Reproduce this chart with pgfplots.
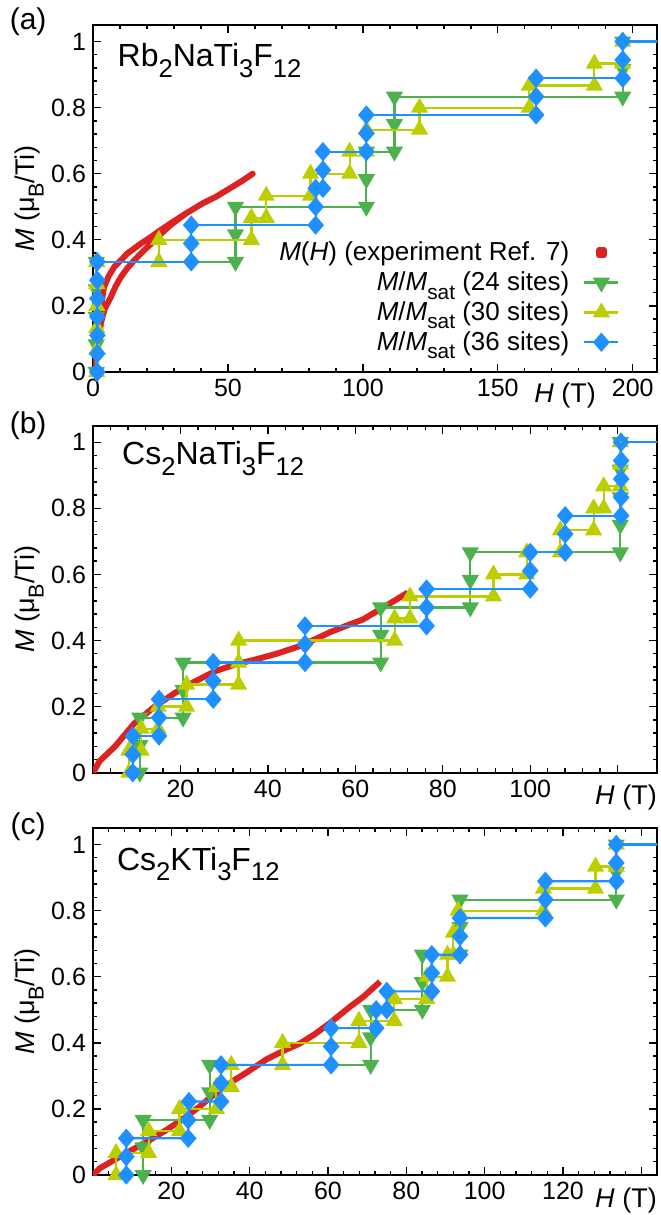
\documentclass[border=0pt]{standalone}
\usepackage{pgfplots}
\pgfplotsset{compat=1.18}
\usepackage{graphicx}
\usepackage{fontspec}
\setmainfont{Liberation Sans}
\definecolor{cred}{RGB}{221,34,34}
\definecolor{cgreen}{RGB}{77,178,77}
\definecolor{cyel}{RGB}{188,206,0}
\definecolor{cblue}{RGB}{30,144,255}
\newcommand{\sub}[1]{\raisebox{-0.33em}{\scalebox{0.8}{#1}}}
\tikzset{
  plab/.style={font=\fontsize{15}{15}\selectfont},
  comp/.style={anchor=base west, font=\fontsize{16}{16}\selectfont, inner sep=0pt},
}
\pgfplotsset{
  mystyle/.style={
    scale only axis, width=282pt, height=173.5pt,
    ymin=0, ymax=1.05,
    ytick={0,0.2,0.4,0.6,0.8,1},
    yticklabels={0,0.2,0.4,0.6,0.8,1},
    minor y tick num=4, minor x tick num=4,
    tick align=inside,
    major tick length=4pt, minor tick length=2.2pt,
    every tick/.style={black, line width=0.7pt},
    axis line style={line width=1pt},
    tick label style={font=\fontsize{12.5}{13}\selectfont},
    ylabel={\textit{M} (μ\sub{B}/Ti)},
    ylabel style={font=\fontsize{13.5}{14}\selectfont, at={(rel axis cs:-0.113,0.5)}, anchor=center},
    xlabel={\textit{H} (T)},
    xlabel style={font=\fontsize{13.5}{14}\selectfont, anchor=north},
    clip mode=individual,
  },
  sg/.style={cgreen, line width=1.1pt, mark=triangle*, mark size=3.9pt, mark options={solid, rotate=180, fill=cgreen}},
  sy/.style={cyel, line width=1.1pt, mark=triangle*, mark size=3.9pt, mark options={solid, fill=cyel}},
  sb/.style={cblue, line width=1.1pt, mark=diamond*, mark size=4pt, mark options={solid, fill=cblue, xscale=1.15}},
  sr/.style={cred, line width=3pt, line join=round, no markers},
}
\begin{document}
\begin{tikzpicture}
\useasboundingbox (0,0) rectangle (330pt,607.5pt);
% ---------------- (a)
\begin{axis}[mystyle, at={(46.5pt,421.5pt)},
  xmin=0, xmax=209, xtick={0,50,100,150,200}, xticklabels={0,50,100,150,200},
  xlabel style={at={(rel axis cs:0.837,0)}, yshift=-2pt},
  legend style={draw=none, fill=none, font=\fontsize{13}{15}\selectfont,
    at={(rel axis cs:0.945,0.03)}, anchor=south east, row sep=0pt, column sep=5pt},
  legend cell align=right, legend plot pos=right]
\addplot[sr, legend image code/.code={\fill[cred] (0.3cm-1.2pt,-1.2pt) rectangle (0.3cm+1.2pt,1.2pt);}] coordinates {
(0.3,0) (1.7,0.066) (2.3,0.096) (2.9,0.147) (4.3,0.19) (6.6,0.227) (8.3,0.258) (10.4,0.288) (12.8,0.315) (15.3,0.338) (19,0.369) (21.8,0.39) (24.8,0.415) (28.8,0.445) (34.5,0.48) (40.6,0.51) (45.5,0.53) (51.6,0.56) (55.6,0.58) (59.2,0.6)
(55.6,0.58) (51.6,0.56) (45.5,0.53) (40.6,0.51) (34.5,0.48) (28.8,0.45) (24.8,0.428) (20.8,0.405) (17.8,0.389) (12.8,0.359) (7.9,0.318) (5.8,0.29) (4.1,0.258) (2.9,0.197) (1.8,0.12) (1.2,0.06) (0.3,0)};
\addlegendentry{\textit{M}(\textit{H}) (experiment Ref. 7)}
\addplot[sg] coordinates {
(1.2,0) (1.2,0.0833) (1.2,0.1667) (1.2,0.25) (1.2,0.3333)
(52.8,0.3333) (52.8,0.4167) (52.8,0.5)
(101.3,0.5) (101.3,0.5833) (101.3,0.6667)
(111.7,0.6667) (111.7,0.75) (111.7,0.8333)
(196.3,0.8333) (196.3,0.9167) (196.3,1)};
\addlegendentry{\textit{M}/\textit{M}\sub{sat} (24 sites)}
\addplot[sy] coordinates {
(1.4,0) (1.4,0.0667) (1.4,0.1333) (1.4,0.2) (1.4,0.2667) (1.4,0.3333)
(24.4,0.3333) (24.4,0.4) (58.7,0.4) (58.7,0.4667) (64.2,0.4667) (64.2,0.5333)
(80.6,0.5333) (80.6,0.6) (95.1,0.6) (95.1,0.6667) (101.3,0.6667) (101.3,0.7333)
(121,0.7333) (121,0.8) (161.7,0.8) (161.7,0.8667) (185.8,0.8667) (185.8,0.9333)
(196.3,0.9333) (196.3,1)};
\addlegendentry{\textit{M}/\textit{M}\sub{sat} (30 sites)}
\addplot[sb] coordinates {
(1.6,0) (1.6,0.0556) (1.6,0.1111) (1.6,0.1667) (1.6,0.2222) (1.6,0.2778) (1.6,0.3333)
(36.4,0.3333) (36.4,0.3889) (36.4,0.4444)
(82.5,0.4444) (82.5,0.5) (82.5,0.5556)
(85.2,0.5556) (85.2,0.6111) (85.2,0.6667)
(101.3,0.6667) (101.3,0.7222) (101.3,0.7778)
(164.2,0.7778) (164.2,0.8333) (164.2,0.8889)
(196.3,0.8889) (196.3,0.9444) (196.3,1)};
\addlegendentry{\textit{M}/\textit{M}\sub{sat} (36 sites)}
\addplot[cgreen, line width=1.1pt, forget plot] coordinates {(196.3,1) (215,1)};
\addplot[cyel, line width=1.1pt, forget plot] coordinates {(196.3,1) (215,1)};
\addplot[cblue, line width=1.1pt, forget plot] coordinates {(196.3,1) (215,1)};
\node[plab] at (rel axis cs:-0.115,1.01) {(a)};
\node[comp] at (rel axis cs:0.043,0.879) {Rb\sub{2}NaTi\sub{3}F\sub{12}};
\end{axis}
% ---------------- (b)
\begin{axis}[mystyle, at={(46.5pt,221.15pt)},
  xmin=0, xmax=129, xtick={0,20,...,120}, xticklabels={,20,40,60,80,100,},
  xlabel style={at={(rel axis cs:0.945,0)}, yshift=-2.7pt}]
\addplot[sr] coordinates {
(0,0) (1.5,0.035) (5,0.079) (9.5,0.15) (14.1,0.2) (18.7,0.241) (23.3,0.276) (27.9,0.307) (32.4,0.327) (37,0.342) (42,0.36) (47.3,0.383) (51,0.405) (54.2,0.425) (58,0.445) (61.8,0.464) (65.6,0.494) (69.4,0.524) (72,0.545)};
\addplot[sg] coordinates {
(10.7,0) (10.7,0.0833) (10.7,0.1667)
(20.6,0.1667) (20.6,0.25) (20.6,0.3333)
(65.8,0.3333) (65.8,0.4167) (65.8,0.5)
(86.3,0.5) (86.3,0.5833) (86.3,0.6667)
(120.6,0.6667) (120.6,0.75) (120.6,0.8333) (120.6,0.9167) (120.6,1)};
\addplot[sy] coordinates {
(8.2,0) (8.2,0.0667) (11,0.0667) (11,0.1333) (14.9,0.1333) (14.9,0.2)
(21.4,0.2) (21.4,0.2667) (33.3,0.2667) (33.3,0.3333) (33.3,0.4)
(69,0.4) (69,0.4667) (72.5,0.4667) (72.5,0.5333) (91.6,0.5333) (91.6,0.6)
(99.2,0.6) (99.2,0.6667) (106.9,0.6667) (106.9,0.7333) (114.5,0.7333) (114.5,0.8)
(116.8,0.8) (116.8,0.8667) (120.6,0.8667) (120.6,0.9333) (120.6,1)};
\addplot[sb] coordinates {
(9.1,0) (9.1,0.0556) (9.1,0.1111)
(15.1,0.1111) (15.1,0.1667) (15.1,0.2222)
(27.5,0.2222) (27.5,0.2778) (27.5,0.3333)
(48.5,0.3333) (48.5,0.3889) (48.5,0.4444)
(76.3,0.4444) (76.3,0.5) (76.3,0.5556)
(100,0.5556) (100,0.6111) (100,0.6667)
(108,0.6667) (108,0.7222) (108,0.7778)
(120.8,0.7778) (120.8,0.8333) (120.8,0.8889) (120.8,0.9444) (120.8,1)};
\addplot[cgreen, line width=1.1pt] coordinates {(120.6,1) (135,1)};
\addplot[cyel, line width=1.1pt] coordinates {(120.6,1) (135,1)};
\addplot[cblue, line width=1.1pt] coordinates {(120.8,1) (135,1)};
\node[plab] at (rel axis cs:-0.115,1.0) {(b)};
\node[comp] at (rel axis cs:0.051,0.888) {Cs\sub{2}NaTi\sub{3}F\sub{12}};
\end{axis}
% ---------------- (c)
\begin{axis}[mystyle, at={(46.5pt,20pt)},
  xmin=0, xmax=144, xtick={0,20,...,140}, xticklabels={,20,40,60,80,100,120,},
  xlabel style={at={(rel axis cs:0.945,0)}, yshift=-3pt}]
\addplot[sr] coordinates {
(0,0) (1.7,0.02) (6.8,0.055) (14.5,0.106) (18.7,0.136) (23,0.17) (27.2,0.207) (30,0.235) (35.8,0.285) (39.2,0.31) (44.3,0.35) (48.5,0.375) (52.8,0.398) (56.5,0.425) (60.5,0.46) (65.6,0.509) (69,0.539) (73.3,0.585)};
\addplot[sg] coordinates {
(12.8,0) (12.8,0.0833) (12.8,0.1667)
(29.8,0.1667) (29.8,0.25) (29.8,0.3333)
(70.9,0.3333) (70.9,0.4167) (70.9,0.5)
(84.1,0.5) (84.1,0.5833) (84.1,0.6667)
(93.7,0.6667) (93.7,0.75) (93.7,0.8333)
(133.6,0.8333) (133.6,0.9167) (133.6,1)};
\addplot[sy] coordinates {
(5.9,0) (5.9,0.0667) (14.2,0.0667) (14.2,0.1333) (22.1,0.1333) (22.1,0.2)
(31.5,0.2) (31.5,0.2667) (35.3,0.2667) (35.3,0.3333) (48.4,0.3333) (48.4,0.4)
(67.9,0.4) (67.9,0.4667) (76.9,0.4667) (76.9,0.5333) (85.2,0.5333) (85.2,0.6)
(90.5,0.6) (90.5,0.6667) (92,0.6667) (92,0.7333) (93.2,0.7333) (93.2,0.8)
(115,0.8) (115,0.8667) (128.3,0.8667) (128.3,0.9333) (133.6,0.9333) (133.6,1)};
\addplot[sb] coordinates {
(8.5,0) (8.5,0.0556) (8.5,0.1111)
(24.3,0.1111) (24.3,0.1667) (24.5,0.2222)
(32.7,0.2222) (32.7,0.2778) (32.7,0.3333)
(60.8,0.3333) (60.8,0.3889) (60.8,0.4444)
(72.3,0.4444) (72.3,0.5) (75,0.5) (75,0.5556)
(86.5,0.5556) (86.5,0.6111) (86.5,0.6667)
(93.7,0.6667) (93.7,0.7222) (93.7,0.7778)
(115.5,0.7778) (115.5,0.8333) (115.5,0.8889)
(133.6,0.8889) (133.6,0.9444) (133.6,1)};
\addplot[cgreen, line width=1.1pt] coordinates {(133.6,1) (150,1)};
\addplot[cyel, line width=1.1pt] coordinates {(133.6,1) (150,1)};
\addplot[cblue, line width=1.1pt] coordinates {(133.6,1) (150,1)};
\node[plab] at (rel axis cs:-0.115,1.004) {(c)};
\node[comp] at (rel axis cs:0.042,0.878) {Cs\sub{2}KTi\sub{3}F\sub{12}};
\end{axis}
\end{tikzpicture}
\end{document}
